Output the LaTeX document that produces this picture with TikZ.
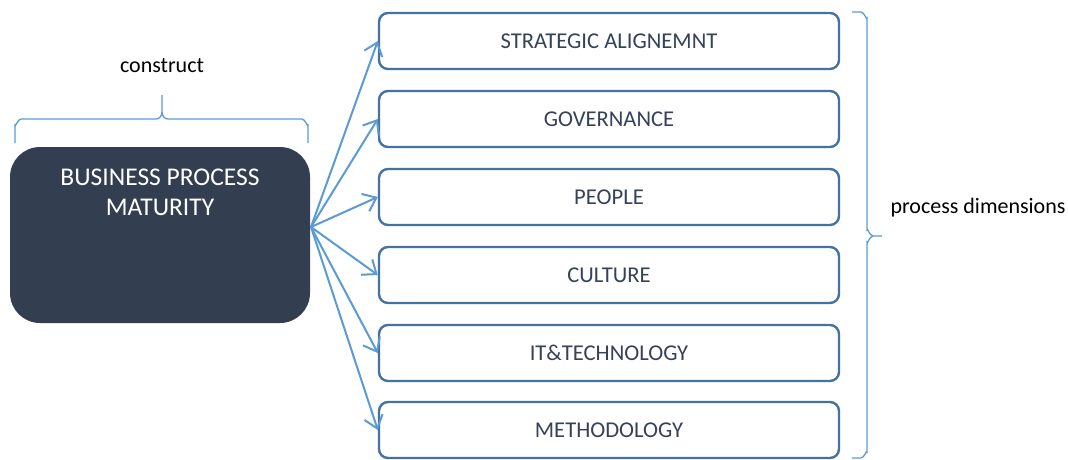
\documentclass[tikz,border=0pt]{standalone}
\usepackage{fontspec}
\setmainfont{Carlito}
\usetikzlibrary{arrows.meta}
\definecolor{darkbox}{HTML}{333F50}
\definecolor{boxline}{HTML}{4472A4}
\definecolor{arrowblue}{HTML}{5B9BD5}
\definecolor{boxtext}{HTML}{35425A}
\begin{document}
\begin{tikzpicture}[x=1pt,y=-1pt,
  dimbox/.style={draw=boxline, line width=2.4pt, rounded corners=9pt, fill=white,
    minimum width=460pt, minimum height=56pt, text=boxtext,
    font=\fontsize{22.6}{26}\selectfont},
  mainbox/.style={fill=darkbox, rounded corners=30pt, minimum width=300pt, minimum height=176pt, inner sep=0pt},
  conn/.style={draw=arrowblue, line width=2pt, -{Straight Barb[length=12pt,width=19pt,line width=2pt]}},
  bracestyle/.style={draw=arrowblue, line width=1.3pt},
  lbl/.style={text=black, font=\fontsize{22}{26}\selectfont}
]
\useasboundingbox (0,0) rectangle (1068,459);

\node[mainbox] (bpm) at (160,235) {};
\node[text=white, align=center, font=\fontsize{25.5}{30}\selectfont] (bpmtext) at (160,192) {BUSINESS PROCESS\\MATURITY};

\node[dimbox] (d1) at (609,41) {STRATEGIC ALIGNEMNT};
\node[dimbox] (d2) at (609,119) {GOVERNANCE};
\node[dimbox] (d3) at (609,197) {PEOPLE};
\node[dimbox] (d4) at (609,275) {CULTURE};
\node[dimbox] (d5) at (609,353) {IT\&TECHNOLOGY};
\node[dimbox] (d6) at (609,430) {METHODOLOGY};

\coordinate (src) at (311,227);
\foreach \n in {d1,d2,d3,d4,d5,d6}{
  \draw[conn] (src) -- (\n.west);
}

% top brace
\draw[bracestyle] (15,143) -- (15,125) to[out=-90,in=180] (21,119) -- (156,119)
  to[out=0,in=-90] (162,112) -- (162,95);
\draw[bracestyle] (162,112) to[out=-90,in=180] (168,119) -- (302,119)
  to[out=0,in=-90] (308,125) -- (308,143);
\node[lbl] (construct) at (162,66) {construct};

% right brace
\draw[bracestyle] (852,12) -- (861,12) to[out=0,in=-90] (867,18) -- (867,230)
  to[out=90,in=180] (873,236) -- (882,236);
\draw[bracestyle] (873,236) to[out=180,in=-90] (867,242) -- (867,452)
  to[out=90,in=0] (861,458) -- (852,458);
\node[lbl, anchor=west] (procdim) at (887,208) {process dimensions};
\end{tikzpicture}
\end{document}
